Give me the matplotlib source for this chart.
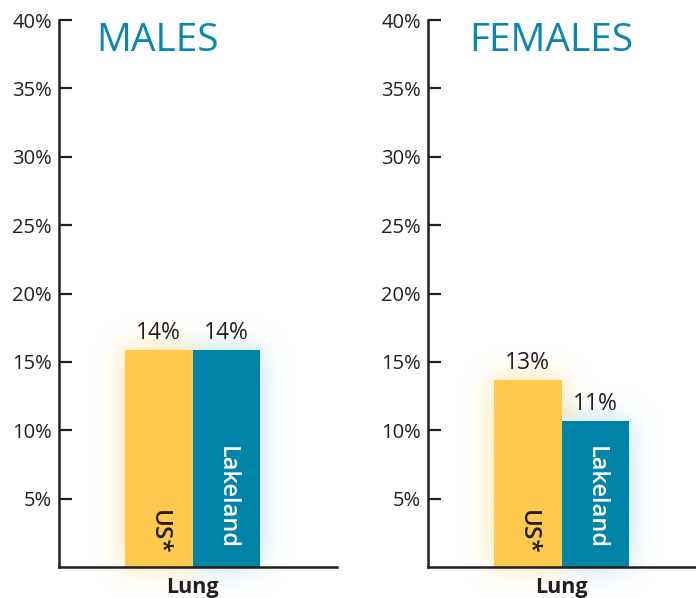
import math
import numpy as np
import matplotlib
matplotlib.use("Agg")
import matplotlib.pyplot as plt
from matplotlib.colors import to_rgb

plt.rcParams['font.family'] = ['Open Sans', 'DejaVu Sans']

# ---- data ----
groups = ["US*", "Lakeland"]
males_heights = [15.9, 15.9]        # bar heights as drawn
males_labels = ["14%", "14%"]       # labels printed above the bars
females_heights = [13.7, 10.7]
females_labels = ["13%", "11%"]
yticks = [5, 10, 15, 20, 25, 30, 35, 40]
ytick_labels = ["5%", "10%", "15%", "20%", "25%", "30%", "35%", "40%"]
category = "Lung"

YELLOW = "#FFC94F"
TEAL = "#0083A9"
TITLE = "#0A87AE"
INK = "#231F20"
GLOW = ["#FFC94F", "#8CC8DC"]

W, H = 696, 598
fig = plt.figure(figsize=(W / 100, H / 100), dpi=100)

erf = np.vectorize(math.erf)


def soft_box(g, a, b, s):
    # 1-D box [a, b] blurred with a gaussian of width s
    return 0.5 * (erf((g - a) / s) - erf((g - b) / s))


def add_glow(ax, xi, h, color, xlim):
    gx = np.linspace(xlim[0], xlim[1], 300)
    gy = np.linspace(-3, 40, 400)
    prof = np.outer(soft_box(gy, 0, h, 1.5), soft_box(gx, xi - 0.5, xi + 0.5, 0.3))
    img = np.zeros((len(gy), len(gx), 4))
    img[..., :3] = to_rgb(color)
    img[..., 3] = 0.6 * prof
    ax.imshow(img, extent=(xlim[0], xlim[1], -3, 40), origin="lower",
              aspect="auto", zorder=1, clip_on=False, interpolation="bilinear")


def panel(rect, xlim, heights, labels, title, title_x):
    ax = fig.add_axes(rect)
    x = np.arange(len(heights))
    colors = [YELLOW, TEAL]

    for xi, h, gc in zip(x, heights, GLOW):
        add_glow(ax, xi, h, gc, xlim)

    ax.bar(x, heights, width=1.0, color=colors, linewidth=0, zorder=3)

    for xi, h, lab in zip(x, heights, labels):
        ax.text(xi, h + 0.35, lab, ha="center", va="bottom", fontsize=16.5,
                color=INK, zorder=4)

    ax.text(x[0], 0.9, groups[0], rotation=270, ha="center", va="bottom",
            fontsize=17.5, color=INK, fontweight="semibold", zorder=4)
    ax.text(x[1], 1.3, groups[1], rotation=270, ha="center", va="bottom",
            fontsize=17, color="white", fontweight="semibold", zorder=4)

    ax.set_xlim(*xlim)
    ax.set_ylim(0, 40)
    ax.set_yticks(yticks)
    ax.set_yticklabels(ytick_labels, fontsize=14.5, color=INK)
    ax.tick_params(axis="y", direction="in", length=9.5, width=1.6,
                   color=INK, pad=5)
    ax.set_xticks([0.5])
    ax.set_xticklabels([category], fontsize=15.5, fontweight="bold", color=INK)
    ax.tick_params(axis="x", length=0, pad=7)

    for s in ["top", "right"]:
        ax.spines[s].set_visible(False)
    for s in ["left", "bottom"]:
        ax.spines[s].set_linewidth(1.8)
        ax.spines[s].set_color(INK)
        ax.spines[s].set_zorder(5)

    ax.text(title_x, 0.962, title, transform=ax.transAxes, ha="center",
            va="center", fontsize=28, color=TITLE)
    return ax


# pixel geometry of the two panels
top_px, base_px = 20, 567
bottom = (H - base_px) / H
height = (base_px - top_px) / H

panel([59 / W, bottom, (337 - 59) / W, height], (-1.478, 2.64),
      males_heights, males_labels, "MALES", 0.353)
panel([428 / W, bottom, (696 - 428) / W, height], (-1.478, 2.49),
      females_heights, females_labels, "FEMALES", 0.459)

fig.savefig("out.png", dpi=100)
